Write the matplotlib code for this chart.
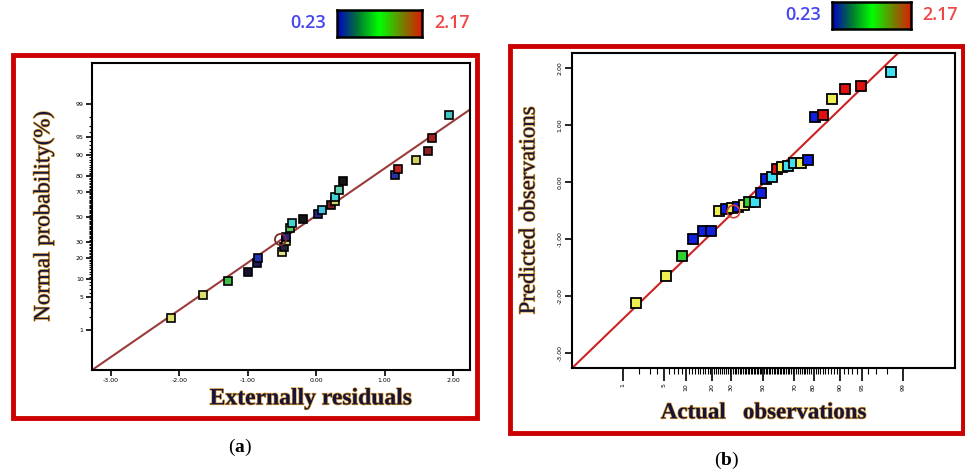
import numpy as np
import matplotlib
matplotlib.use("Agg")
import matplotlib.pyplot as plt
from matplotlib.patches import Rectangle
from matplotlib.colors import LinearSegmentedColormap
import matplotlib.patheffects as pe
from statistics import NormalDist

plt.rcParams['mathtext.fontset'] = 'custom'
plt.rcParams['mathtext.rm'] = 'Liberation Serif'
plt.rcParams['mathtext.bf'] = 'Liberation Serif:bold'

# ---- data: panel (a) normal probability plot ----
resid_a = [-2.13, -1.65, -1.29, -1.00, -0.87, -0.85, -0.50, -0.47, -0.44, -0.44,
           -0.38, -0.35, -0.19, 0.03, 0.09, 0.21, 0.28, 0.27, 0.34, 0.39,
           1.15, 1.19, 1.46, 1.64, 1.69, 1.94]
prob_a = [1.9, 5.5, 9.3, 12.9, 17.1, 20.0, 23.6, 26.8, 31.2, 34.1,
          40.9, 45.2, 48.4, 52.4, 55.6, 59.9, 62.9, 65.9, 70.9, 77.0,
          80.5, 83.9, 87.9, 91.3, 94.7, 98.2]
colors_a = ['#dede6a', '#dede6a', '#3fbf46', '#14142e', '#1c1c5e', '#2434b8',
            '#e2e288', '#22223e', '#c6e070', '#22228a', '#5cc65c', '#46d2d2',
            '#141414', '#22228a', '#46c4e0', '#7a1e1e', '#d4d464', '#46d2d2',
            '#66d2b0', '#141414', '#2434a8', '#c42222', '#d4d464', '#8e2020',
            '#a42222', '#46c4c4']
circle_a = (-0.53, 32.6)
fit_a = (0.97, 0.03)

# ---- data: panel (b) predicted vs actual ----
actual_b = [1.74, 5.37, 8.85, 12.3, 15.9, 19.5, 23.3, 27.1, 30.5, 33.7,
            37.4, 40.9, 44.8, 48.8, 52.0, 56.0, 59.1, 62.6, 66.3, 69.5,
            73.6, 77.3, 80.5, 84.1, 87.5, 91.3, 94.8, 98.3]
pred_b = [-2.12, -1.65, -1.30, -1.00, -0.86, -0.86, -0.51, -0.47, -0.46, -0.44,
          -0.40, -0.35, -0.35, -0.19, 0.05, 0.09, 0.23, 0.26, 0.28, 0.33,
          0.33, 0.39, 1.14, 1.18, 1.46, 1.63, 1.68, 1.93]
colors_b = ['#eeee50', '#eeee50', '#30d030', '#1020e0', '#1020e0', '#1020e0',
            '#eeee50', '#1020e0', '#eeee50', '#1020e0', '#f0f090', '#30d030',
            '#40e0f0', '#1020e0', '#1020e0', '#40e0f0', '#e01010', '#eeee50',
            '#40e0f0', '#40e0f0', '#eeee50', '#1020e0', '#1020e0', '#e01010',
            '#eeee50', '#e01010', '#e01010', '#40e0f0']
circle_b = (30.9, -0.51)
fit_b = (1.02, -0.03)

prob_ticks = [1, 5, 10, 20, 30, 50, 70, 80, 90, 95, 99]
resid_ticks = [-3.0, -2.0, -1.0, 0.0, 1.0, 2.0]
pred_ticks = [-3.0, -2.0, -1.0, 0.0, 1.0, 2.0]
cbar_range = (0.23, 2.17)

nd = NormalDist()
def z(p):
    return np.array([nd.inv_cdf(v / 100.0) for v in np.atleast_1d(p)])

W, H = 965, 473
fig = plt.figure(figsize=(W / 100, H / 100), dpi=100)

def box(x0, y0, x1, y1):
    return [x0 / W, 1 - y1 / H, (x1 - x0) / W, (y1 - y0) / H]

serif = ['Liberation Serif', 'DejaVu Serif']
lab_fx = [pe.withStroke(linewidth=1.0, foreground='#d89a30')]
lab_col = '#14143c'
minor_p = [p for p in range(1, 100) if p not in prob_ticks]

# frames
for (x0, y0, x1, y1) in [(13, 55, 477, 418), (510, 46, 963, 433)]:
    fig.patches.append(Rectangle((x0 / W, 1 - y1 / H), (x1 - x0) / W, (y1 - y0) / H,
                                 transform=fig.transFigure, fill=False,
                                 ec='#cc0000', lw=3.5, zorder=5))

# ---- panel (a) ----
ax = fig.add_axes(box(92, 63, 470, 370))
xl = (-3.28, 2.25)
ax.plot(xl, [fit_a[0] * v + fit_a[1] for v in xl], color='#9b3b3b', lw=1.5, zorder=1)
for x, p, c in zip(resid_a, prob_a, colors_a):
    ax.plot(x, z(p)[0], 's', ms=5.5, mfc=c, mec='black', mew=1.2, zorder=3)
ax.plot(circle_a[0], z(circle_a[1])[0], 'o', ms=8, mfc='none', mec='#7a2a2a', mew=1.3, zorder=4)
ax.set_xlim(xl)
ax.set_ylim(-3.15, 3.17)
ax.set_xticks(resid_ticks)
ax.set_xticklabels(['%.2f' % v for v in resid_ticks])
ax.set_yticks(z(prob_ticks))
ax.set_yticklabels([str(p) for p in prob_ticks])
ax.set_yticks(z(minor_p), minor=True)
ax.tick_params(axis='both', which='major', labelsize=4.5, length=4, width=1.2, pad=2)
ax.tick_params(axis='y', which='minor', length=2.5, width=0.8)
for s in ax.spines.values():
    s.set_linewidth(1.5)
ax.set_ylabel('Normal probability(%)', family=serif, fontsize=16.5, color=lab_col,
              path_effects=lab_fx)
ax.yaxis.set_label_coords(-0.1, 0.5)
ax.set_xlabel('Externally residuals', family=serif, fontsize=17, fontweight='bold',
              color=lab_col, path_effects=lab_fx)
ax.xaxis.set_label_coords(0.58, -0.06)

# ---- panel (b) ----
bx = fig.add_axes(box(572, 53, 955, 368))
xz = (-3.17, 3.19)
bx.plot(xz, [fit_b[0] * v + fit_b[1] for v in xz], color='#cc2222', lw=1.5, zorder=1)
for a, p, c in zip(actual_b, pred_b, colors_b):
    bx.plot(z(a)[0], p, 's', ms=6.5, mfc=c, mec='black', mew=1.3, zorder=3)
bx.plot(z(circle_b[0])[0], circle_b[1], 'o', ms=9, mfc='none', mec='#d04040', mew=1.2, zorder=4)
bx.set_xlim(xz)
bx.set_ylim(-3.26, 2.26)
bx.set_xticks(z(prob_ticks))
bx.set_xticklabels([str(p) for p in prob_ticks], rotation=90)
bx.set_xticks(z(minor_p), minor=True)
bx.set_yticks(pred_ticks)
bx.set_yticklabels(['%.2f' % v for v in pred_ticks], rotation=90, va='center')
bx.tick_params(axis='both', which='major', labelsize=4.5, length=5, width=1.2, pad=2)
bx.tick_params(axis='x', which='major', length=9)
bx.tick_params(axis='x', which='minor', length=4, width=0.8)
for s in bx.spines.values():
    s.set_linewidth(1.5)
bx.set_ylabel('Predicted observations', family=serif, fontsize=16.5, color=lab_col,
              path_effects=lab_fx)
bx.yaxis.set_label_coords(-0.085, 0.5)
bx.set_xlabel('Actual   observations', family=serif, fontsize=16.5, fontweight='bold',
              color=lab_col, path_effects=lab_fx, labelpad=8)

# ---- colour bars ----
cmap = LinearSegmentedColormap.from_list('bgr', ['#0000c8', '#007a30', '#00ff00', '#6a8a00', '#dd1a00'])
grad = np.linspace(cbar_range[0], cbar_range[1], 256).reshape(1, -1)
for (x0, y0, x1, y1, lx, rx, ty) in [(337, 10, 422, 37, 308, 452, 23),
                                     (832, 2, 911, 29, 803, 940, 15)]:
    cax = fig.add_axes(box(x0, y0, x1, y1))
    cax.imshow(grad, aspect='auto', cmap=cmap)
    cax.set_xticks([])
    cax.set_yticks([])
    for s in cax.spines.values():
        s.set_linewidth(1.8)
    fig.text(lx / W, 1 - ty / H, '%.2f' % cbar_range[0], color='#4646f0', fontsize=13,
             fontweight='semibold', ha='center', va='center', family='Open Sans')
    fig.text(rx / W, 1 - ty / H, '%.2f' % cbar_range[1], color='#f04646', fontsize=13,
             fontweight='semibold', ha='center', va='center', family='Open Sans')

# panel letters
fig.text(240 / W, 1 - 447 / H, r'($\mathbf{a}$)', family=serif, fontsize=14, ha='center', va='center')
fig.text(727 / W, 1 - 460 / H, r'($\mathbf{b}$)', family=serif, fontsize=14, ha='center', va='center')

fig.savefig('out.png', dpi=100)
